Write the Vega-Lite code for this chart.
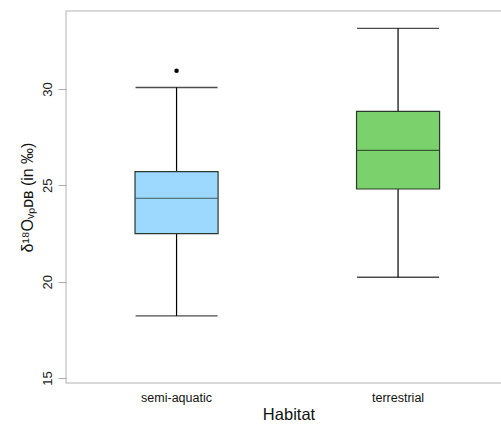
{
  "$schema": "https://vega.github.io/schema/vega-lite/v6.json",
  "width": 445,
  "height": 372,
  "autosize": {"type": "none"},
  "padding": {"left": 66, "top": 11, "right": 0, "bottom": 41},
  "background": "white",
  "config": {
    "view": {"stroke": "#cccccc", "strokeWidth": 1.5},
    "font": "Liberation Sans"
  },
  "datasets": {
    "boxes": [
      {"habitat": "semi-aquatic", "lo": 18.22, "q1": 22.49, "median": 24.33, "q3": 25.71, "hi": 30.08},
      {"habitat": "terrestrial", "lo": 20.23, "q1": 24.81, "median": 26.82, "q3": 28.84, "hi": 33.15}
    ],
    "outliers": [
      {"habitat": "semi-aquatic", "value": 30.95}
    ]
  },
  "encoding": {
    "x": {
      "field": "habitat",
      "type": "nominal",
      "scale": {"domain": ["semi-aquatic", "terrestrial"], "paddingInner": 0.625, "paddingOuter": 0.317, "align": 0.4915},
      "axis": {
        "title": "Habitat",
        "titleFontSize": 16.5,
        "titleFontWeight": "normal",
        "titleColor": "#111",
        "titlePadding": 3,
        "labelAngle": 0,
        "labelFontSize": 12.5,
        "labelColor": "#111",
        "labelPadding": 8,
        "ticks": false,
        "domain": false
      }
    }
  },
  "layer": [
    {
      "data": {"name": "boxes"},
      "mark": {"type": "rule", "color": "#000", "strokeWidth": 1.2},
      "encoding": {
        "y": {
          "field": "lo",
          "type": "quantitative",
          "scale": {"domain": [14.74, 34.05], "nice": false, "zero": false},
          "axis": {
            "title": "δ¹⁸Oᵥₚᴅʙ (in ‰)",
            "titleFontSize": 16,
            "titleFontWeight": "normal",
            "titleColor": "#111",
            "titlePadding": 6,
            "values": [15, 20, 25, 30],
            "labelAngle": -90,
            "labelAlign": "center",
            "labelBaseline": "bottom",
            "labelFontSize": 13,
            "labelColor": "#222",
            "labelPadding": 4,
            "tickColor": "#aaaaaa",
            "tickSize": 8,
            "grid": false,
            "domain": false
          }
        },
        "y2": {"field": "hi"}
      }
    },
    {
      "data": {"name": "boxes"},
      "mark": {"type": "tick", "color": "#000", "thickness": 1.3, "size": 82},
      "encoding": {"y": {"field": "lo", "type": "quantitative"}}
    },
    {
      "data": {"name": "boxes"},
      "mark": {"type": "tick", "color": "#000", "thickness": 1.3, "size": 82},
      "encoding": {"y": {"field": "hi", "type": "quantitative"}}
    },
    {
      "data": {"name": "boxes"},
      "mark": {"type": "bar", "stroke": "#2a3a2a", "strokeWidth": 1.2},
      "encoding": {
        "y": {"field": "q1", "type": "quantitative"},
        "y2": {"field": "q3"},
        "color": {
          "field": "habitat",
          "type": "nominal",
          "scale": {"domain": ["semi-aquatic", "terrestrial"], "range": ["#9dd8ff", "#7bd16b"]},
          "legend": null
        }
      }
    },
    {
      "data": {"name": "boxes"},
      "mark": {"type": "tick", "color": "#1a2a1a", "thickness": 1.2, "size": 82},
      "encoding": {"y": {"field": "median", "type": "quantitative"}}
    },
    {
      "data": {"name": "outliers"},
      "mark": {"type": "point", "filled": true, "color": "#000", "size": 20, "opacity": 1},
      "encoding": {"y": {"field": "value", "type": "quantitative"}}
    }
  ]
}
